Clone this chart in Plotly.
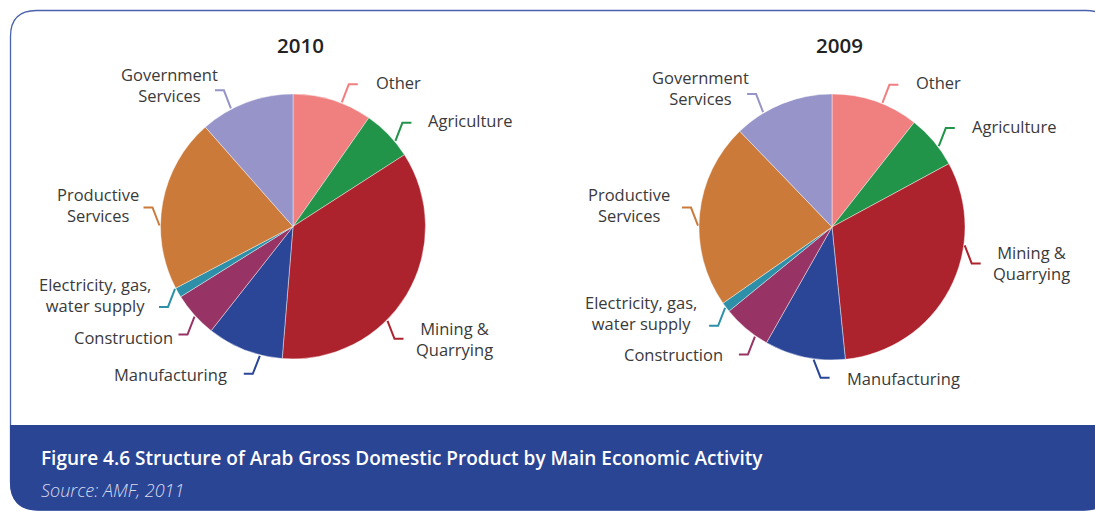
import math
import plotly.graph_objects as go

W, H = 1095, 511

# ---- data -------------------------------------------------------------
categories = [
    "Other", "Agriculture", "Mining & Quarrying", "Manufacturing",
    "Construction", "Electricity, gas, water supply",
    "Productive Services", "Government Services",
]
label_text = [
    "Other", "Agriculture", "Mining &<br>Quarrying", "Manufacturing",
    "Construction", "Electricity, gas,<br>water supply",
    "Productive<br>Services", "Government<br>Services",
]
share_2010 = [9.7, 6.2, 35.4, 9.3, 5.5, 1.2, 21.2, 11.5]
share_2009 = [10.6, 6.5, 31.3, 9.8, 5.9, 1.2, 22.5, 12.2]
years = ["2010", "2009"]

slice_colors = ["#F07F80", "#21944A", "#AD232D", "#2B4597",
                "#973365", "#2E8FA8", "#CB7A3A", "#9694C8"]

title_text = "Figure 4.6 Structure of Arab Gross Domestic Product by Main Economic Activity"
source_text = "Source: AMF, 2011"

# ---- layout settings (pixels) -----------------------------------------
pie_geom = {"2010": (293, 226.5, 132.5), "2009": (832, 227, 133)}

# per label: angle nudge (deg), side (+1 right / -1 left), vertical (-1 up / +1 down),
# gap between leader end and text, vertical text offset
leader_cfg = {
    "2010": [(4, 1, -1, 16, -2), (4, 1, -1, 15, -2), (14, 1, 1, 11, 0.5),
             (-7, -1, 1, 15, 1), (-0.5, -1, 1, 3, 3), (2, -1, 1, 6, -12),
             (-10, -1, -1, 3, -2.5), (-7, -1, -1, -5, -5.5)],
    "2009": [(3, 1, -1, 16, -2), (3, 1, -1, 15, -2), (-20, 1, 1, 10, 0),
             (-4, 1, 1, 15.5, 1), (-5, -1, 1, 14, 0), (0, -1, 1, 10, -12.5),
             (-5, -1, -1, 10, -3), (-9, -1, -1, -4, -6)],
}

FONT = "Open Sans"
BORDER = "#4A62AC"
BAND = "#2B4595"


def rounded_path(x0, y0, x1, y1, r_tl, r_tr, r_br, r_bl):
    return (f"M {x0 + r_tl},{y0} L {x1 - r_tr},{y0} Q {x1},{y0} {x1},{y0 + r_tr} "
            f"L {x1},{y1 - r_br} Q {x1},{y1} {x1 - r_br},{y1} "
            f"L {x0 + r_bl},{y1} Q {x0},{y1} {x0},{y1 - r_bl} "
            f"L {x0},{y0 + r_tl} Q {x0},{y0} {x0 + r_tl},{y0} Z")


fig = go.Figure()
# empty cartesian layer that carries the pixel-based coordinate system
fig.add_trace(go.Scatter(x=[0, W], y=[0, H], mode="markers",
                         marker=dict(opacity=0), hoverinfo="skip", showlegend=False))

shapes = []
annotations = []

# frame and caption band
shapes.append(dict(type="path", layer="below", xref="x", yref="y",
                   path=rounded_path(10.5, 10.5, 1112, 510, 26, 26, 28, 28),
                   fillcolor="white", line=dict(color=BORDER, width=1.3)))
shapes.append(dict(type="path", layer="below", xref="x", yref="y",
                   path=rounded_path(10.5, 425.5, 1112, 510, 0, 0, 28, 28),
                   fillcolor=BAND, line=dict(color=BAND, width=1)))

for year, shares in zip(years, [share_2010, share_2009]):
    cx, cy, r = pie_geom[year]
    fig.add_trace(go.Pie(
        labels=categories, values=shares, sort=False, direction="clockwise",
        rotation=0, textinfo="none", hoverinfo="label+percent",
        marker=dict(colors=slice_colors, line=dict(color="rgba(255,255,255,0.7)", width=0.6)),
        domain=dict(x=[(cx - r) / W, (cx + r) / W],
                    y=[1 - (cy + r) / H, 1 - (cy - r) / H]),
        showlegend=False,
    ))
    annotations.append(dict(x=cx + 7, y=45, xref="x", yref="y", text=year, showarrow=False,
                            xanchor="center", yanchor="middle",
                            font=dict(family=FONT, size=20.5, color="#222222", weight=600)))

    total = sum(shares)
    cum = 0.0
    for i, v in enumerate(shares):
        mid = (cum + v / 2) / total * 360
        cum += v
        nudge, sx, sy, gap, dy = leader_cfg[year][i]
        a = math.radians(mid + nudge)
        x0 = cx + (r + 1) * math.sin(a)
        y0 = cy - (r + 1) * math.cos(a)
        x1, y1 = x0 + 7 * sx, y0 + 18 * sy
        x2 = x1 + 9 * sx
        shapes.append(dict(type="path", layer="above", xref="x", yref="y",
                           path=f"M {x0:.1f},{y0:.1f} L {x1:.1f},{y1:.1f} L {x2:.1f},{y1:.1f}",
                           line=dict(color=slice_colors[i], width=2)))
        annotations.append(dict(x=x2 + gap * sx, y=y1 + dy, xref="x", yref="y",
                                text=label_text[i], showarrow=False, align="center",
                                xanchor="left" if sx > 0 else "right", yanchor="middle",
                                font=dict(family=FONT, size=16.5, color="#3A3A3A")))

annotations.append(dict(x=39, y=458, xref="x", yref="y", text=title_text, showarrow=False,
                        xanchor="left", yanchor="middle",
                        font=dict(family=FONT, size=19, color="white", weight=600)))
annotations.append(dict(x=39, y=490, xref="x", yref="y", text=source_text, showarrow=False,
                        xanchor="left", yanchor="middle",
                        font=dict(family=FONT, size=18, color="#D5DBEE",
                                  style="italic", weight=300)))

fig.update_layout(
    width=W, height=H, margin=dict(l=0, r=0, t=0, b=0),
    paper_bgcolor="white", plot_bgcolor="rgba(0,0,0,0)",
    xaxis=dict(range=[0, W], visible=False, fixedrange=True),
    yaxis=dict(range=[H, 0], visible=False, fixedrange=True),
    shapes=shapes, annotations=annotations,
)

fig.write_html("out.html")
